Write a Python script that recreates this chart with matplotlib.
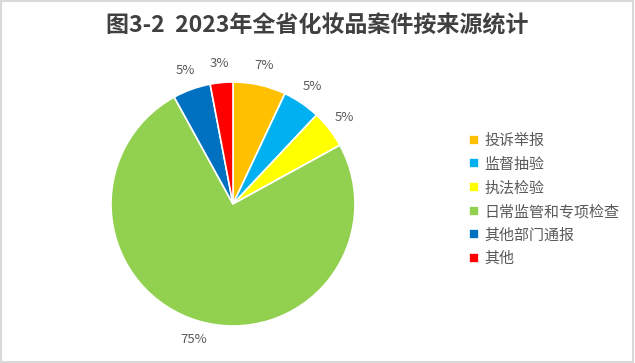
import matplotlib
matplotlib.use('Agg')
import matplotlib.pyplot as plt
from matplotlib.patches import Rectangle

plt.rcParams['font.family'] = ['Noto Sans CJK SC', 'DejaVu Sans']

# data
categories = ['投诉举报', '监督抽验', '执法检验', '日常监管和专项检查', '其他部门通报', '其他']
values = [7, 5, 5, 75, 5, 3]
colors = ['#FFC000', '#00B0F0', '#FFFF00', '#92D050', '#0070C0', '#FF0000']
title = '图3-2  2023年全省化妆品案件按来源统计'

W, H = 635, 363
fig = plt.figure(figsize=(W / 100, H / 100), dpi=100)

# outer border of the chart area
fig.patches.append(Rectangle((0.002, 0.003), 0.995, 0.993, transform=fig.transFigure,
                             fill=False, edgecolor='#D9D9D9', linewidth=1.5))

# pie axes, centre (233, 204) px, radius 122 px
cx, cy, r = 233, 204, 122
ax = fig.add_axes([(cx - r) / W, (H - cy - r) / H, 2 * r / W, 2 * r / H])
wedges, texts, autotexts = ax.pie(
    values, colors=colors, startangle=90, counterclock=False,
    autopct=lambda p: f'{p:.0f}%', pctdistance=1.16,
    wedgeprops=dict(edgecolor='white', linewidth=1.2),
    textprops=dict(color='#595959', fontsize=9.5))
ax.set_xlim(-1, 1)
ax.set_ylim(-1, 1)
ax.set_aspect('equal')

fig.text(0.5, 1 - 26 / H, title, ha='center', va='center',
         fontsize=16.6, fontweight='bold', color='#404040')

leg = fig.legend(wedges, categories, loc='upper left', bbox_to_anchor=(463 / W, 1 - 128 / H),
                 frameon=False, fontsize=10.8, handlelength=0.65, handleheight=0.65,
                 handletextpad=0.4, labelspacing=0.62, borderaxespad=0)
for t in leg.get_texts():
    t.set_color('#595959')

fig.savefig('out.png', dpi=100)
